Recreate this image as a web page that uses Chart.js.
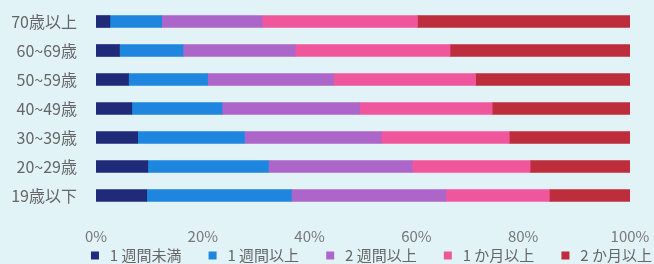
<!DOCTYPE html>
<html>
<head>
<meta charset="utf-8">
<script src="https://cdn.jsdelivr.net/npm/chart.js@4"></script>
<style>
  html, body { margin: 0; padding: 0; background: #e1f3f7; overflow: hidden; }
  #wrap { width: 654px; height: 264px; }
</style>
</head>
<body>
<div id="wrap"><canvas id="c"></canvas></div>
<script>
const ages = ['70歳以上', '60~69歳', '50~59歳', '40~49歳', '30~39歳', '20~29歳', '19歳以下']
const seriesNames = ['1 週間未満', '1 週間以上', '2 週間以上', '1 か月以上', '2 か月以上']
const under1w = [2.6, 4.4, 6.1, 6.7, 7.8, 9.7, 9.5]
const over1w = [9.7, 11.9, 14.8, 16.9, 20.0, 22.6, 27.1]
const over2w = [18.8, 21.0, 23.6, 25.8, 25.6, 26.9, 28.9]
const over1m = [29.1, 29.0, 26.6, 24.8, 24.0, 22.1, 19.4]
const over2m = [39.8, 33.7, 28.9, 25.8, 22.6, 18.7, 15.1]
const xTicks = [0, 20, 40, 60, 80, 100]

const colors = ['#1f2a78', '#1e86de', '#ac66c9', '#f0569b', '#bd2d3b']
const values = [under1w, over1w, over2w, over1m, over2m]

const font = "'Noto Sans CJK JP', 'Noto Sans', sans-serif"

new Chart(document.getElementById('c'), {
  type: 'bar',
  data: {
    labels: ages,
    datasets: values.map((v, i) => ({
      label: seriesNames[i],
      data: v,
      backgroundColor: colors[i],
      barThickness: 12
    }))
  },
  options: {
    indexAxis: 'y',
    responsive: true,
    maintainAspectRatio: false,
    animation: false,
    layout: { padding: { top: 7, right: 0, bottom: -9, left: 0 } },
    plugins: {
      tooltip: { enabled: false },
      legend: {
        position: 'bottom',
        align: 'end',
        labels: {
          boxWidth: 8,
          boxHeight: 8,
          padding: 2,
          color: '#666',
          font: { family: font, size: 15 },
          // leading space + trailing spaces so the items sit like the original
          generateLabels: (chart) => {
            const items = Chart.defaults.plugins.legend.labels.generateLabels(chart)
            items.forEach((it, i) => {
              it.text = ' ' + it.text + (i < items.length - 1 ? '\u3000   ' : '')
            })
            return items
          }
        }
      }
    },
    scales: {
      x: {
        stacked: true,
        min: 0,
        max: 100,
        afterBuildTicks: (s) => { s.ticks = xTicks.map(v => ({ value: v })) },
        afterFit: (s) => { s.paddingRight = 24; s.paddingLeft = 0; s.height = 36 },
        grid: { display: false, drawTicks: false },
        border: { display: false },
        ticks: {
          padding: 17,
          color: '#777',
          font: { family: font, size: 15 },
          callback: (v) => v + '%'
        }
      },
      y: {
        stacked: true,
        grid: { display: false, drawTicks: false },
        border: { display: false },
        afterFit: (s) => { s.width = 96; s.paddingTop = 0; s.paddingBottom = 0 },
        ticks: {
          autoSkip: false,
          padding: 19,
          color: '#666',
          font: { family: font, size: 16 }
        }
      }
    }
  }
})
</script>
</body>
</html>
